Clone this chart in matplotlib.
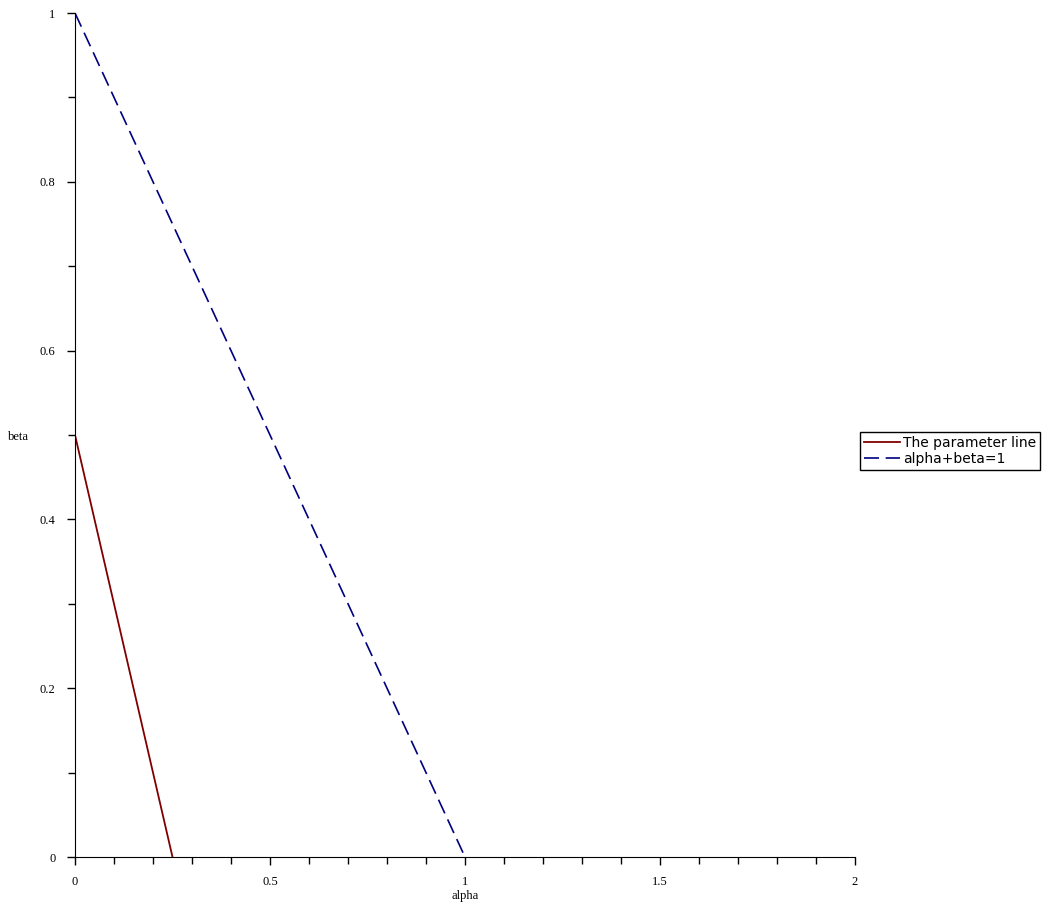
import matplotlib
matplotlib.use("Agg")
import matplotlib.pyplot as plt
from matplotlib.ticker import MultipleLocator

# the two lines
param_alpha = [0.0, 0.25]
param_beta = [0.5, 0.0]
sum_alpha = [0.0, 1.0]
sum_beta = [1.0, 0.0]

fig = plt.figure(figsize=(10.52, 9.06), dpi=100)
ax = fig.add_axes([75 / 1052, 49 / 906, 780 / 1052, 844 / 906])

ax.plot(param_alpha, param_beta, color="#800000", lw=1.3, label="The parameter line")
ax.plot(sum_alpha, sum_beta, color="#000080", lw=1.2, dashes=(9, 4), label="alpha+beta=1")

ax.set_xlim(0, 2)
ax.set_ylim(0, 1)
ax.spines["top"].set_visible(False)
ax.spines["right"].set_visible(False)

ax.xaxis.set_minor_locator(MultipleLocator(0.1))
ax.yaxis.set_minor_locator(MultipleLocator(0.1))
ax.set_xticks([0, 0.5, 1, 1.5, 2], ["0", "0.5", "1", "1.5", "2"])
ax.set_yticks([0, 0.2, 0.4, 0.6, 0.8, 1], ["0", "0.2", "0.4", "0.6", "0.8", "1"])
ax.tick_params(which="both", length=6, width=1, labelsize=9, pad=8)
ax.tick_params(which="minor", length=5)
for t in ax.get_xticklabels() + ax.get_yticklabels():
    t.set_family("Liberation Serif")

ax.set_xlabel("alpha", family="Liberation Serif", fontsize=9, labelpad=1)
ax.set_ylabel("beta", family="Liberation Serif", fontsize=9, rotation=0,
              va="center", ha="center")
ax.yaxis.set_label_coords(-0.072, 0.498)

leg = ax.legend(loc="center left", bbox_to_anchor=(1.006, 0.481), fontsize=10,
                frameon=True, fancybox=False, edgecolor="black", framealpha=1,
                borderpad=0.3, borderaxespad=0, handlelength=2.6, handletextpad=0.2,
                labelspacing=0.15)
leg.get_frame().set_linewidth(1)

fig.savefig("out.png", dpi=100)
